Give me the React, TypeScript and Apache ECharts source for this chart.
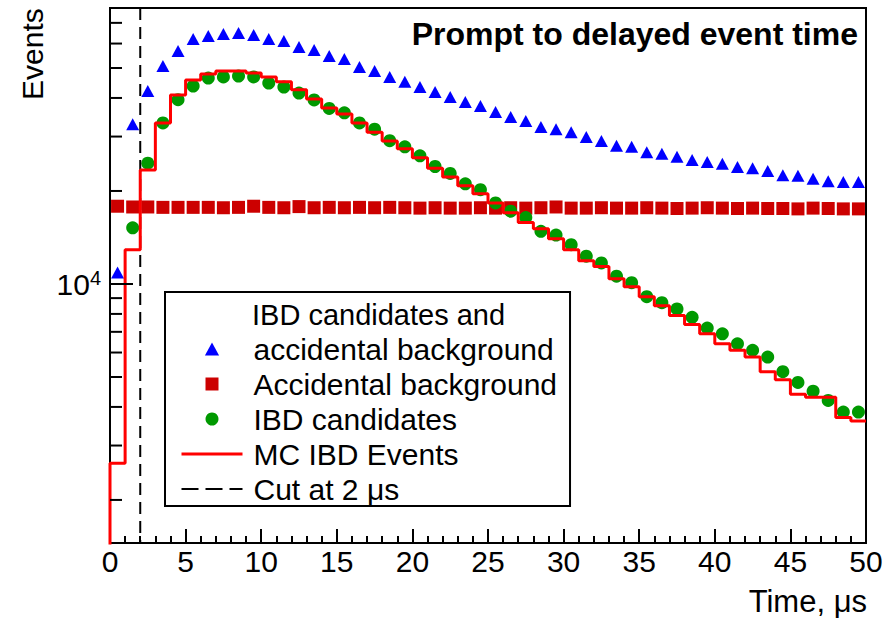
import { useEffect, useRef } from 'react';
import * as echarts from 'echarts';

const FONT = "'Liberation Sans', Arial, Helvetica, sans-serif";

// Histogram binning: 1 μs bins from 0 to 50 μs
const binEdges: number[] = Array.from({ length: 51 }, (_, i) => i);
const binCenters: number[] = binEdges.slice(0, 50).map((e) => e + 0.5);

// Vertical axis range (log scale)
const Y_MIN = 1451;
const Y_MAX = 78200;

// IBD candidates together with the accidental background
const ibdPlusAccidental: number[] = [
  10900, 32900, 42100, 50800, 56800, 62100, 63500, 64400, 64900, 64000,
  62100, 61200, 58500, 57200, 54700, 53500, 50400, 48900, 46800, 45100,
  43400, 41800, 40300, 38800, 37700, 36000, 34700, 33700, 32200, 31700,
  31000, 29900, 29000, 28000, 27800, 26700, 26400, 25800, 25200, 24800,
  24500, 23900, 23700, 23200, 22500, 22400, 21900, 21500, 21400, 21400,
];

// Accidental background alone
const accidental: number[] = [
  17850, 17750, 17750, 17700, 17700, 17700, 17700, 17650, 17700, 17850,
  17700, 17650, 17800, 17650, 17700, 17650, 17700, 17650, 17700, 17650,
  17600, 17650, 17600, 17600, 17650, 17600, 17650, 17600, 17650, 17750,
  17600, 17600, 17650, 17600, 17600, 17650, 17600, 17550, 17600, 17650,
  17600, 17550, 17600, 17550, 17550, 17500, 17600, 17550, 17500, 17500,
];

// IBD candidates (background subtracted); first bin is off scale
const ibdCandidates: (number | null)[] = [
  null, 15200, 24600, 33200, 39500, 43700, 46400, 46800, 47100, 46800,
  44700, 43400, 41500, 39400, 37000, 35800, 33200, 31700, 29100, 27800,
  26000, 24000, 22800, 21100, 20200, 18300, 17200, 16400, 14800, 14400,
  13400, 12300, 11700, 10600, 10100, 9100, 8700, 8300, 7800, 7200,
  6900, 6400, 6100, 5800, 5200, 4800, 4500, 4200, 3850, 3850,
];

// Monte Carlo IBD events, one value per bin
const mcIbd: number[] = [
  2630, 12900, 23400, 33200, 40900, 45700, 47800, 48900, 48900, 48200,
  46800, 45100, 42500, 39700, 37100, 35500, 33200, 31000, 29000, 27400,
  25600, 23700, 22200, 20800, 19600, 18300, 17000, 15800, 15100, 14000,
  12900, 11900, 11400, 10400, 9800, 9100, 8500, 7900, 7400, 6900,
  6400, 6100, 5800, 5200, 4900, 4400, 4300, 4300, 3700, 3600,
];

// Selection cut on the prompt-delayed time
const cutTime = 2;

// Log-axis tick positions (decade plus intermediate ticks)
const yTickValues: number[] = [
  2000, 3000, 4000, 5000, 6000, 7000, 8000, 9000,
  10000, 20000, 30000, 40000, 50000, 60000, 70000,
];

const NAME_SUM = 'IBD candidates and accidental background';
const NAME_ACC = 'Accidental background';
const NAME_IBD = 'IBD candidates';
const NAME_MC = 'MC IBD Events';
const NAME_CUT = 'Cut at 2 μs';

// Legend icons as paths so that their aspect ratio is kept
const ICON_TRIANGLE = 'path://M6,0L12,11L0,11Z';
const ICON_SQUARE = 'path://M0,0L10,0L10,10L0,10Z';

export default function App() {
  const ref = useRef<HTMLDivElement>(null);

  useEffect(() => {
    if (!ref.current) return;
    const chart = echarts.init(ref.current, null, { renderer: 'svg' });

    const mcData: number[][] = [[binEdges[0], 1000]];
    mcIbd.forEach((v, i) => mcData.push([binEdges[i], v]));
    mcData.push([binEdges[50], mcIbd[mcIbd.length - 1]]);

    const option: any = {
      animation: false,
      backgroundColor: '#ffffff',
      title: {
        text: 'Prompt to delayed event time',
        right: 37,
        top: 18,
        padding: 0,
        textStyle: { fontFamily: FONT, fontSize: 32, fontWeight: 'bold', color: '#000' },
      },
      grid: {
        left: 110,
        right: 29,
        top: 8,
        bottom: 75,
        show: true,
        borderColor: '#000',
        borderWidth: 2,
        backgroundColor: 'transparent',
      },
      xAxis: {
        type: 'value',
        min: 0,
        max: 50,
        interval: 5,
        axisLine: { show: true, onZero: false, lineStyle: { color: '#000', width: 2 } },
        axisTick: { show: true, inside: true, length: 14, lineStyle: { color: '#000', width: 2 } },
        minorTick: { show: true, splitNumber: 5, length: 7, lineStyle: { color: '#000', width: 2 } },
        splitLine: { show: false },
        axisLabel: {
          fontFamily: FONT,
          fontSize: 30,
          color: '#000',
          margin: 3,
          showMinLabel: true,
          showMaxLabel: true,
        },
      },
      yAxis: {
        type: 'log',
        logBase: 10,
        min: Y_MIN,
        max: Y_MAX,
        axisLine: { show: true, onZero: false, lineStyle: { color: '#000', width: 2 } },
        axisTick: { show: false },
        minorTick: { show: false },
        splitLine: { show: false },
        axisLabel: {
          margin: 9,
          formatter: (v: number) => (Math.abs(v - 10000) < 1 ? '{b|10}{s|4}' : ''),
          rich: {
            b: { fontFamily: FONT, fontSize: 30, color: '#000', verticalAlign: 'bottom', lineHeight: 32 },
            s: { fontFamily: FONT, fontSize: 20, color: '#000', verticalAlign: 'top', lineHeight: 32 },
          },
        },
      },
      legend: {
        orient: 'vertical',
        left: 165,
        top: 292,
        z: 4,
        selectedMode: false,
        symbolKeepAspect: true,
        padding: [42, 13, 2, 15],
        itemGap: 5,
        itemWidth: 61,
        itemHeight: 13,
        borderColor: '#000',
        borderWidth: 2,
        backgroundColor: '#fff',
        textStyle: { fontFamily: FONT, fontSize: 30, color: '#000', padding: [0, 0, 0, 6] },
        formatter: (name: string) => (name === NAME_SUM ? 'accidental background' : name),
        data: [
          { name: NAME_SUM, icon: ICON_TRIANGLE },
          { name: NAME_ACC, icon: ICON_SQUARE },
          { name: NAME_IBD, icon: 'circle' },
          { name: NAME_MC, itemStyle: { opacity: 0 }, lineStyle: { width: 3 } },
          { name: NAME_CUT, itemStyle: { opacity: 0 }, lineStyle: { type: [17, 7] } },
        ],
      },
      series: [
        {
          name: NAME_ACC,
          type: 'scatter',
          symbol: 'rect',
          symbolSize: 13,
          itemStyle: { color: '#cc0000', opacity: 1 },
          data: binCenters.map((x, i) => [x, accidental[i]]),
        },
        {
          name: NAME_CUT,
          type: 'line',
          symbol: 'none',
          itemStyle: { color: '#000' },
          lineStyle: { color: '#000', width: 2, type: [12, 7] },
          data: [
            [cutTime, Y_MAX],
            [cutTime, Y_MIN],
          ],
        },
        {
          name: NAME_MC,
          type: 'line',
          step: 'end',
          symbol: 'none',
          itemStyle: { color: '#ff0000' },
          lineStyle: { color: '#ff0000', width: 3 },
          data: mcData,
        },
        {
          name: NAME_SUM,
          type: 'scatter',
          symbol: 'triangle',
          symbolSize: [13, 12],
          itemStyle: { color: '#0000ff', opacity: 1 },
          data: binCenters.map((x, i) => [x, ibdPlusAccidental[i]]),
        },
        {
          name: NAME_IBD,
          type: 'scatter',
          symbol: 'circle',
          symbolSize: 13,
          itemStyle: { color: '#009900', opacity: 1 },
          data: binCenters
            .map((x, i) => [x, ibdCandidates[i]])
            .filter((p) => p[1] !== null),
        },
        {
          name: 'y ticks',
          type: 'custom',
          silent: true,
          z: 5,
          data: yTickValues.map((v) => [0, v]),
          renderItem: (_params: any, api: any) => {
            const v = api.value(1);
            const p = api.coord([0, v]);
            const lg = Math.log10(v);
            const major = Math.abs(lg - Math.round(lg)) < 1e-9;
            const len = major ? 23 : 12;
            return {
              type: 'line',
              shape: { x1: p[0], y1: p[1], x2: p[0] + len, y2: p[1] },
              style: { stroke: '#000', lineWidth: 2 },
            };
          },
        },
      ],
      graphic: [
        {
          type: 'text',
          x: 32,
          y: 100,
          rotation: Math.PI / 2,
          style: {
            text: 'Events',
            fontFamily: FONT,
            fontSize: 30,
            fill: '#000',
            align: 'left',
            verticalAlign: 'middle',
          },
        },
        {
          type: 'text',
          x: 867,
          y: 601,
          style: {
            text: 'Time, μs',
            fontFamily: FONT,
            fontSize: 31,
            fill: '#000',
            align: 'right',
            verticalAlign: 'middle',
          },
        },
        {
          // first line of the two-line legend entry for the blue triangles
          type: 'text',
          x: 252,
          y: 315,
          z: 10,
          style: {
            text: 'IBD candidates and',
            fontFamily: FONT,
            fontSize: 29,
            lineHeight: 24,
            fill: '#000',
            align: 'left',
            verticalAlign: 'middle',
          },
        },
      ],
    };

    chart.setOption(option);
    return () => {
      chart.dispose();
    };
  }, []);

  return (
    <div
      ref={ref}
      style={{ position: 'absolute', left: 0, top: 0, width: 895, height: 618, background: '#fff' }}
    />
  );
}
